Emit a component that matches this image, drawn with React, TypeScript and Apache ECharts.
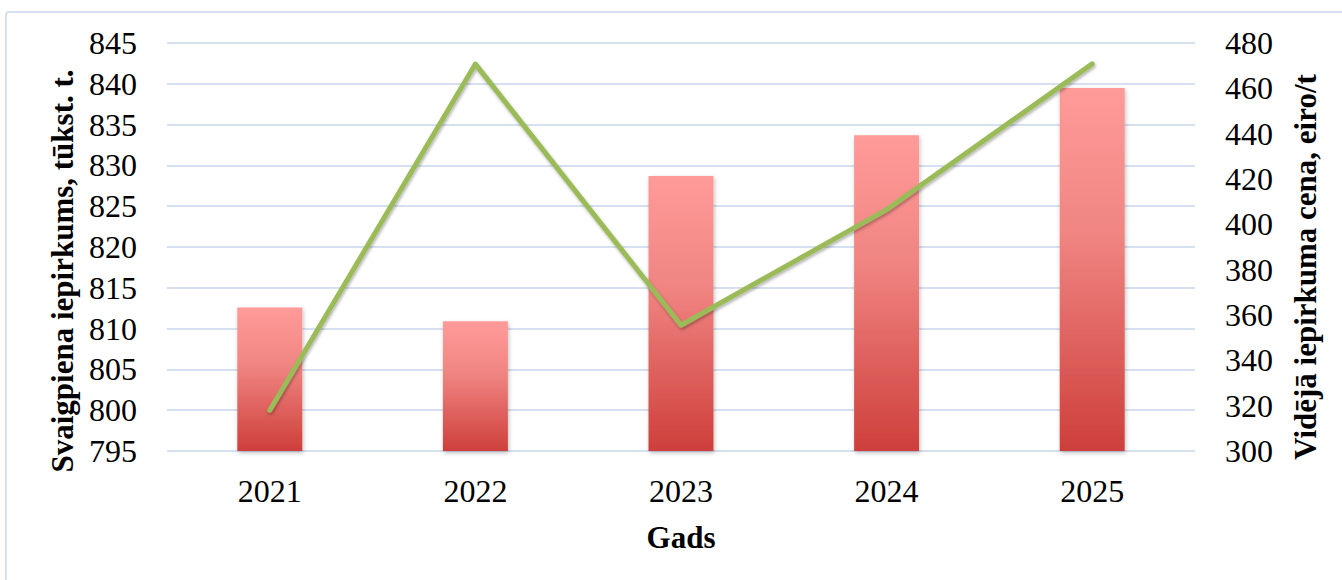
import React, { useEffect, useRef } from "react";
import * as echarts from "echarts";

const years = ["2021", "2022", "2023", "2024", "2025"];
const purchase = [812.6, 810.9, 828.7, 833.7, 839.5];
const price = [318, 470.7, 355.5, 406.5, 470.8];

const leftTitle = "Svaigpiena iepirkums, tūkst. t.";
const rightTitle = "Vidējā iepirkuma cena, eiro/t";
const xTitle = "Gads";

const FONT = "Liberation Serif";

export default function App() {
  const ref = useRef<HTMLDivElement>(null);
  useEffect(() => {
    if (!ref.current) return;
    const chart = echarts.init(ref.current, undefined, { renderer: "svg" });
    chart.setOption({
      animation: false,
      backgroundColor: "#ffffff",
      textStyle: { fontFamily: FONT },
      grid: { left: 167, right: 147, top: 43, bottom: 129, containLabel: false },
      xAxis: {
        type: "category",
        data: years,
        axisLine: { show: false },
        axisTick: { show: false },
        axisLabel: { color: "#000", fontSize: 32, fontFamily: FONT, margin: 24 },
      },
      yAxis: [
        {
          type: "value",
          min: 795,
          max: 845,
          interval: 5,
          axisLine: { show: false },
          axisTick: { show: false },
          axisLabel: { color: "#000", fontSize: 32, fontFamily: FONT, margin: 30 },
          splitLine: { lineStyle: { color: "#d5e0f1", width: 2 } },
        },
        {
          type: "value",
          min: 300,
          max: 480,
          interval: 20,
          axisLine: { show: false },
          axisTick: { show: false },
          axisLabel: { color: "#000", fontSize: 32, fontFamily: FONT, margin: 30 },
          splitLine: { show: false },
        },
      ],
      series: [
        {
          type: "bar",
          data: purchase,
          barWidth: "31.6%",
          yAxisIndex: 0,
          itemStyle: {
            color: new echarts.graphic.LinearGradient(0, 0, 0, 1, [
              { offset: 0, color: "#ff9b99" },
              { offset: 0.4, color: "#f08582" },
              { offset: 1, color: "#ce3f3b" },
            ]),
            shadowColor: "rgba(0,0,0,0.25)",
            shadowBlur: 4,
            shadowOffsetX: 1,
            shadowOffsetY: 2,
          },
          z: 2,
        },
        {
          type: "line",
          data: price,
          yAxisIndex: 1,
          symbol: "none",
          lineStyle: {
            color: "#9bbb59",
            width: 5,
            cap: "round",
            join: "round",
            shadowColor: "rgba(0,0,0,0.3)",
            shadowBlur: 3,
            shadowOffsetX: 1,
            shadowOffsetY: 2,
          },
          z: 3,
        },
      ],
      graphic: [
        {
          type: "rect",
          shape: { x: 6, y: 12, width: 1340, height: 600, r: 3 },
          style: { fill: "none", stroke: "#d5e0f1", lineWidth: 2 },
          silent: true,
          z: -1,
        },
        {
          type: "text",
          x: 62,
          y: 271,
          rotation: Math.PI / 2,
          style: {
            text: leftTitle,
            font: `bold 31px "${FONT}"`,
            fill: "#000",
            textAlign: "center",
            textVerticalAlign: "middle",
          },
        },
        {
          type: "text",
          x: 1305,
          y: 267,
          rotation: Math.PI / 2,
          style: {
            text: rightTitle,
            font: `bold 31px "${FONT}"`,
            fill: "#000",
            textAlign: "center",
            textVerticalAlign: "middle",
          },
        },
        {
          type: "text",
          x: 681,
          y: 537,
          style: {
            text: xTitle,
            font: `bold 31px "${FONT}"`,
            fill: "#000",
            textAlign: "center",
            textVerticalAlign: "middle",
          },
        },
      ],
    });
    return () => chart.dispose();
  }, []);
  return (
    <div
      ref={ref}
      style={{ position: "absolute", left: 0, top: 0, width: 1342, height: 580 }}
    />
  );
}
